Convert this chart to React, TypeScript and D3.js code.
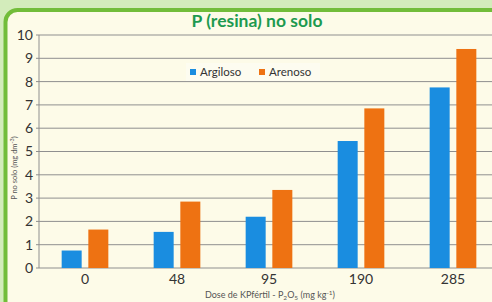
import * as d3 from "d3";

const doses = ["0", "48", "95", "190", "285"];
const series = ["Argiloso", "Arenoso"];
const argiloso = [0.75, 1.55, 2.2, 5.45, 7.75];
const arenoso = [1.65, 2.85, 3.35, 6.85, 9.4];
const yTicks = [0, 1, 2, 3, 4, 5, 6, 7, 8, 9, 10];

const W = 492;
const H = 302;
const PLOT = { left: 39, right: 499, top: 35, bottom: 268 };
const COLORS: Record<string, string> = { Argiloso: "#1a8de0", Arenoso: "#ee7212" };
const FONT = "Lato, 'Open Sans', sans-serif";

export default function App() {
  const x = d3.scaleBand().domain(doses).range([PLOT.left, PLOT.right]);
  const inner = d3.scaleBand().domain(series).range([-26, 26]).paddingInner(0.25).paddingOuter(0.1);
  const y = d3.scaleLinear().domain([0, 10]).range([PLOT.bottom, PLOT.top]);
  const values: Record<string, number[]> = { Argiloso: argiloso, Arenoso: arenoso };

  return (
    <div style={{ position: "fixed", left: 0, top: 0 }}>
      <svg width={W} height={H} style={{ display: "block", fontFamily: FONT }}>
        <rect x={0} y={0} width={W} height={H} fill="#d3ecbb" />
        <rect x={5.5} y={10} width={W + 20} height={H + 20} rx={12} fill="#fdfbe8" stroke="#72bd3a" strokeWidth={4} />

        <text x={257} y={27} textAnchor="middle" fontSize={17.5} fontWeight="bold" fill="#1d9a4f">
          P (resina) no solo
        </text>

        {yTicks.map((t) => (
          <g key={t}>
            <line x1={PLOT.left - 3} x2={W} y1={y(t)} y2={y(t)} stroke="#8f8f8f" strokeWidth={1} />
            <text x={33} y={y(t)} dy="0.35em" textAnchor="end" fontSize={14} fill="#333">
              {t}
            </text>
          </g>
        ))}
        <line x1={PLOT.left} x2={PLOT.left} y1={PLOT.top} y2={PLOT.bottom} stroke="#8f8f8f" />

        {doses.map((d, i) => (
          <g key={d}>
            {series.map((s) => (
              <rect
                key={s}
                x={x(d)! + x.bandwidth() / 2 + inner(s)!}
                y={y(values[s][i])}
                width={inner.bandwidth()}
                height={y(0) - y(values[s][i])}
                fill={COLORS[s]}
              />
            ))}
            <text x={x(d)! + x.bandwidth() / 2} y={284} textAnchor="middle" fontSize={14} fill="#333">
              {d}
            </text>
          </g>
        ))}

        <rect x={186} y={63} width={134} height={18} fill="#fdfcf0" />
        {series.map((s, i) => (
          <g key={s} transform={`translate(${190 + i * 69},72)`}>
            <rect x={0} y={-3} width={6} height={6} fill={COLORS[s]} />
            <text x={10} dy="0.35em" fontSize={11.5} fill="#333">
              {s}
            </text>
          </g>
        ))}

        <text x={270} y={298} textAnchor="middle" fontSize={9} fill="#555">
          Dose de KPfértil - P<tspan fontSize={6.5} dy={2}>2</tspan>
          <tspan dy={-2}>O</tspan>
          <tspan fontSize={6.5} dy={2}>5</tspan>
          <tspan dy={-2}> (mg kg</tspan>
          <tspan fontSize={6.5} dy={-3}>-1</tspan>
          <tspan dy={3}>)</tspan>
        </text>

        <text transform="translate(17,168) rotate(-90)" textAnchor="middle" fontSize={7.5} fill="#555">
          P no solo (mg dm<tspan fontSize={5.5} dy={-3}>-3</tspan>
          <tspan dy={3}>)</tspan>
        </text>
      </svg>
    </div>
  );
}
